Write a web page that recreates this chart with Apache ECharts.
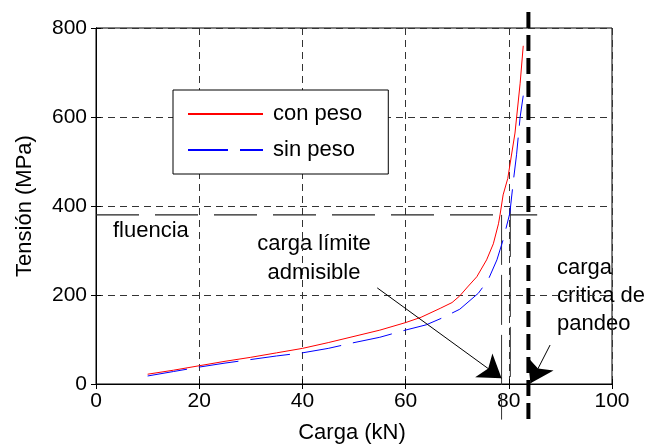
<!DOCTYPE html>
<html>
<head>
<meta charset="utf-8">
<script src="https://cdn.jsdelivr.net/npm/echarts@6/dist/echarts.min.js"></script>
<style>html,body{margin:0;padding:0;background:#fff}#c{width:652px;height:447px}</style>
</head>
<body>
<div id="c"></div>
<script>
// ---- data ----
const cargaConPeso   = [10, 15, 20, 25, 30, 35, 40, 45, 50, 55, 60, 63, 66.7, 69, 70.5, 72, 73.8, 75.7, 77, 78, 78.3, 78.9, 79.8, 81.2, 82.2, 82.8];
const tensionConPeso = [22, 31, 41, 51, 60, 70, 80, 93, 107, 121, 138, 150, 170, 183, 198, 218, 241, 279, 315, 360, 380, 425, 462, 564, 676, 760];
const cargaSinPeso   = [10, 15, 20, 25, 30, 35, 40, 45, 50, 55, 59.6, 64, 67, 70.5, 74.1, 76, 77.7, 78.9, 80.2, 80.9, 81.5, 82.2, 82.8];
const tensionSinPeso = [18, 28, 38, 47, 55, 63, 70, 80, 93, 105, 120, 133, 148, 168, 204, 234, 279, 324, 384, 458, 515, 600, 648];
const fluencia = 380;            // MPa
const fluenciaRango = [0, 85.5]; // kN
const cargaLimiteCon = 78.6;     // kN
const cargaLimiteSin = 80.3;     // kN
const cargaCritica = 83.8;       // kN
const xTicks = [0, 20, 40, 60, 80, 100];
const yTicks = [0, 200, 400, 600, 800];
const flechaLimite = [[54.5, 216], [78.6, 12.8]];
const flechaCritica = [[88.0, 87.6], [84.2, 1.6]];

const FONT = '"Liberation Sans", Arial, Helvetica, sans-serif';
const chart = echarts.init(document.getElementById('c'), null, {renderer: 'canvas'});

function zip(a, b) { return a.map((v, i) => [v, b[i]]); }

const gridDash = {color: '#333', type: [7, 5], width: 1};

const option = {
  animation: false,
  backgroundColor: '#fff',
  grid: {left: 96, right: 40, top: 28, bottom: 63, show: true, borderColor: '#000', borderWidth: 1, containLabel: false},
  xAxis: [
    {type: 'value', min: xTicks[0], max: xTicks[xTicks.length-1], interval: xTicks[1]-xTicks[0],
     axisLine: {show: true, lineStyle: {color: '#000', width: 1}},
     axisTick: {show: true, inside: true, length: 5, lineStyle: {color: '#000'}},
     axisLabel: {color: '#000', fontSize: 21, fontFamily: FONT, margin: 7},
     splitLine: {show: true, lineStyle: gridDash}},
    {type: 'value', position: 'top', min: xTicks[0], max: xTicks[xTicks.length-1], interval: xTicks[1]-xTicks[0],
     axisLine: {show: true, lineStyle: {color: '#000'}},
     axisTick: {show: true, inside: true, length: 5, lineStyle: {color: '#000'}},
     axisLabel: {show: false}, splitLine: {show: false}}
  ],
  yAxis: [
    {type: 'value', min: yTicks[0], max: yTicks[yTicks.length-1], interval: yTicks[1]-yTicks[0],
     axisLine: {show: true, lineStyle: {color: '#000', width: 1}},
     axisTick: {show: true, inside: true, length: 5, lineStyle: {color: '#000'}},
     axisLabel: {color: '#000', fontSize: 21, fontFamily: FONT, margin: 9},
     splitLine: {show: true, lineStyle: gridDash}},
    {type: 'value', position: 'right', min: yTicks[0], max: yTicks[yTicks.length-1], interval: yTicks[1]-yTicks[0],
     axisLine: {show: true, lineStyle: {color: '#000'}},
     axisTick: {show: true, inside: true, length: 5, lineStyle: {color: '#000'}},
     axisLabel: {show: false}, splitLine: {show: false}}
  ],
  legend: {
    left: 173, top: 90, orient: 'vertical',
    backgroundColor: '#fff', borderColor: '#000', borderWidth: 1,
    padding: [13, 26, 13, 14], itemGap: 14, itemWidth: 75, itemHeight: 14,
    itemStyle: {opacity: 0, borderWidth: 0},
    textStyle: {fontSize: 22, fontFamily: FONT, color: '#000', padding: [0, 0, 0, 5]},
    data: ['con peso', 'sin peso'], z: 20
  },
  series: [
    {name: 'fluencia', type: 'line', data: [[fluenciaRango[0], fluencia], [fluenciaRango[1], fluencia]],
     showSymbol: false, symbol: 'none', clip: false, silent: true,
     lineStyle: {color: '#222', width: 1.2, type: [43, 16]}, z: 3},
    {name: 'limite con', type: 'line', data: [[cargaLimiteCon, fluencia], [cargaLimiteCon, -80]],
     symbol: 'none', clip: false, silent: true,
     lineStyle: {color: '#333', width: 1, type: [50, 10]}, z: 3},
    {name: 'limite sin', type: 'line', data: [[cargaLimiteSin, 398], [cargaLimiteSin, 2]],
     symbol: 'none', clip: false, silent: true,
     lineStyle: {color: '#333', width: 1, type: [50, 10]}, z: 3},
    {name: 'con peso', type: 'line', data: zip(cargaConPeso, tensionConPeso),
     symbol: 'none', showSymbol: false, color: '#ff0000',
     lineStyle: {color: '#ff0000', width: 1}, z: 5},
    {name: 'sin peso', type: 'line', data: zip(cargaSinPeso, tensionSinPeso),
     symbol: 'none', showSymbol: false, color: '#0000ff',
     lineStyle: {color: '#0000ff', width: 1, type: [40, 12]}, z: 5},
    {name: 'critica', type: 'line', data: [[cargaCritica, 836], [cargaCritica, -80]],
     symbol: 'none', clip: false, silent: true,
     lineStyle: {color: '#000', width: 4, type: [16, 7]}, z: 6},
    {name: 'flechas', type: 'lines', coordinateSystem: 'cartesian2d', xAxisIndex: 0, yAxisIndex: 0,
     symbol: ['none', 'arrow'], symbolSize: 22, silent: true,
     lineStyle: {color: '#000', width: 1, opacity: 1},
     data: [{coords: flechaLimite}, {coords: flechaCritica}], z: 7}
  ],
  graphic: [
    {type: 'text', x: 113, y: 231, style: {text: 'fluencia', fontSize: 22, fontFamily: FONT, fill: '#000', textVerticalAlign: 'middle'}},
    {type: 'text', x: 314, y: 229, style: {text: 'carga límite\nadmisible', fontSize: 22, fontFamily: FONT, fill: '#000', textAlign: 'center', lineHeight: 29}},
    {type: 'text', x: 557, y: 254, style: {text: 'carga\ncritica de\npandeo', fontSize: 22, fontFamily: FONT, fill: '#000', textAlign: 'left', lineHeight: 28}},
    {type: 'text', x: 25, y: 206, rotation: Math.PI / 2, style: {text: 'Tensión (MPa)', fontSize: 22, fontFamily: FONT, fill: '#000', textAlign: 'center', textVerticalAlign: 'middle'}},
    {type: 'text', x: 352, y: 433, style: {text: 'Carga (kN)', fontSize: 22, fontFamily: FONT, fill: '#000', textAlign: 'center', textVerticalAlign: 'middle'}}
  ]
};
chart.setOption(option);
</script>
</body>
</html>
